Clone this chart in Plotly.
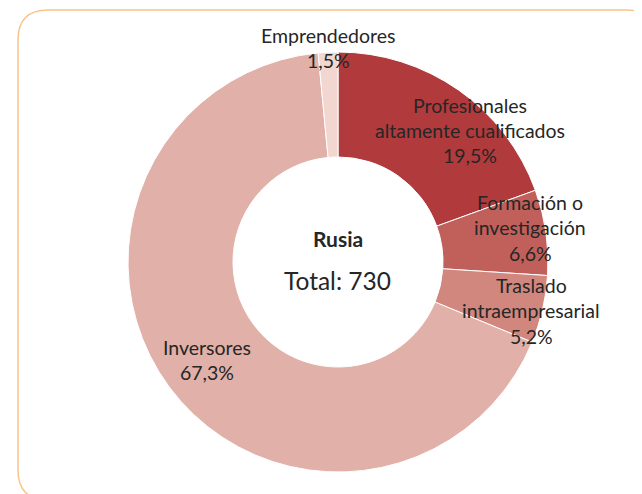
import plotly.graph_objects as go

W, H = 642, 494
OFF = 8  # page body margin offset

categories = ["Profesionales altamente cualificados", "Formación o investigación",
              "Traslado intraempresarial", "Inversores", "Emprendedores"]
values = [142, 48, 38, 491, 11]
pct_labels = ["19,5%", "6,6%", "5,2%", "67,3%", "1,5%"]
colors = ["#B13A3D", "#C1605A", "#D1877E", "#E1B0A8", "#F2D6D0"]
country = "Rusia"
total = 730

def px(x):
    return (x - OFF) / W

def py(y):
    return 1 - (y - OFF) / H

fig = go.Figure()
fig.add_trace(go.Pie(
    labels=categories, values=values, hole=0.5, sort=False, direction="clockwise",
    rotation=0, marker=dict(colors=colors, line=dict(color="white", width=1)),
    textinfo="none", hoverinfo="label+percent", showlegend=False,
    domain=dict(x=[px(128), px(548)], y=[py(472), py(52)]),
))

font = "Lato, 'Open Sans', sans-serif"
txt = "#262626"
# label lines: (text lines, center x, first line y)
label_specs = [
    (["Profesionales", "altamente cualificados", pct_labels[0]], 470, 105),
    (["Formación o", "investigación", pct_labels[1]], 530, 202),
    (["Traslado", "intraempresarial", pct_labels[2]], 531, 285),
    (["Inversores", pct_labels[3]], 207, 347),
    (["Emprendedores", pct_labels[4]], 328, 35),
]
anns = []
for lines, cx, y0 in label_specs:
    for i, line in enumerate(lines):
        anns.append(dict(text=line, x=px(cx), y=py(y0 + i * 25.5), xref="paper", yref="paper",
                         showarrow=False, xanchor="center", yanchor="middle",
                         font=dict(family=font, size=19.5, color=txt)))
anns.append(dict(text="<b>" + country + "</b>", x=px(338), y=py(238), xref="paper", yref="paper",
                 showarrow=False, font=dict(family=font, size=21, color=txt)))
anns.append(dict(text="Total: " + str(total), x=px(338), y=py(280), xref="paper", yref="paper",
                 showarrow=False, font=dict(family=font, size=24.5, color=txt)))

def seg_path(segs):
    out = []
    for seg in segs:
        pts = seg[1:]
        coords = [f"{px(pts[j]):.5f},{py(pts[j+1]):.5f}" for j in range(0, len(pts), 2)]
        out.append(seg[0] + " " + " ".join(coords))
    return " ".join(out)

r = 30
border = seg_path([("M", 48, 500), ("Q", 18, 500, 18, 470), ("L", 18, 10 + r),
                   ("Q", 18, 10, 18 + r, 10), ("L", 627, 10), ("Q", 657, 10, 657, 40)])

fig.update_layout(
    width=W, height=H, margin=dict(l=0, r=0, t=0, b=0),
    paper_bgcolor="white", plot_bgcolor="white",
    annotations=anns,
    shapes=[dict(type="path", path=border, xref="paper", yref="paper",
                 line=dict(color="#F9C48C", width=1.5))],
)
fig.write_html("out.html")
